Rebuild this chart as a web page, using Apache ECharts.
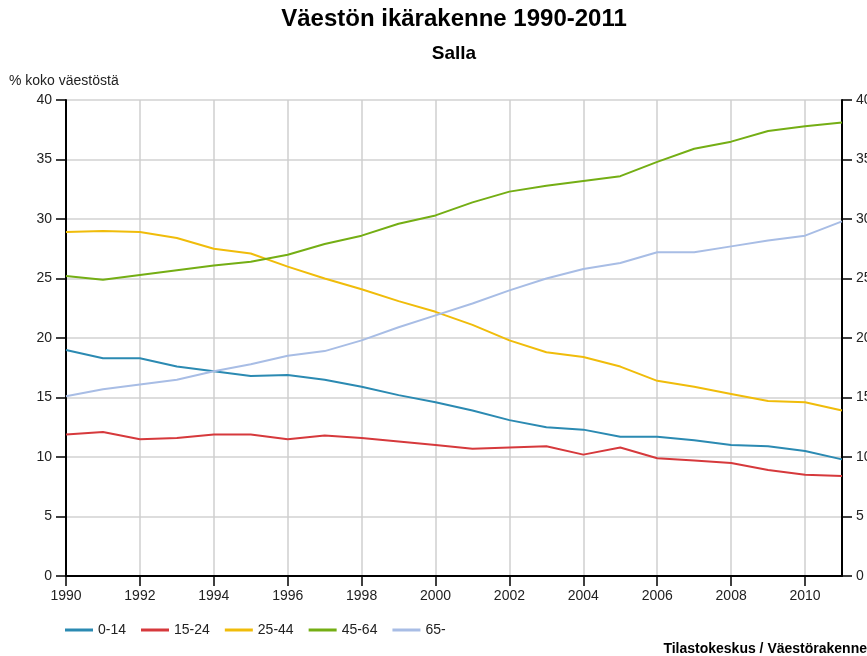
<!DOCTYPE html>
<html>
<head>
<meta charset="utf-8">
<script src="https://cdn.jsdelivr.net/npm/echarts@6/dist/echarts.min.js"></script>
<style>
html,body{margin:0;padding:0;background:#fff;}
#chart{width:867px;height:656px;}
</style>
</head>
<body>
<div id="chart"></div>
<script>
var years = ['1990','1991','1992','1993','1994','1995','1996','1997','1998','1999','2000','2001','2002','2003','2004','2005','2006','2007','2008','2009','2010','2011'];
var seriesNames = ['0-14','15-24','25-44','45-64','65-'];
var age0_14  = [19.0,18.3,18.3,17.6,17.2,16.8,16.9,16.5,15.9,15.2,14.6,13.9,13.1,12.5,12.3,11.7,11.7,11.4,11.0,10.9,10.5,9.8];
var age15_24 = [11.9,12.1,11.5,11.6,11.9,11.9,11.5,11.8,11.6,11.3,11.0,10.7,10.8,10.9,10.2,10.8,9.9,9.7,9.5,8.9,8.5,8.4];
var age25_44 = [28.9,29.0,28.9,28.4,27.5,27.1,26.0,25.0,24.1,23.1,22.2,21.1,19.8,18.8,18.4,17.6,16.4,15.9,15.3,14.7,14.6,13.9];
var age45_64 = [25.2,24.9,25.3,25.7,26.1,26.4,27.0,27.9,28.6,29.6,30.3,31.4,32.3,32.8,33.2,33.6,34.8,35.9,36.5,37.4,37.8,38.1];
var age65    = [15.1,15.7,16.1,16.5,17.2,17.8,18.5,18.9,19.8,20.9,21.9,22.9,24.0,25.0,25.8,26.3,27.2,27.2,27.7,28.2,28.6,29.8];
var colors = ['#2b8ab2','#d6393c','#f0bc0a','#74ae14','#a8bde5'];

var font = 'Liberation Sans, Arial, sans-serif';
var chart = echarts.init(document.getElementById('chart'), null, {renderer:'canvas'});
var dataArr = [age0_14, age15_24, age25_44, age45_64, age65];
var yBase = {
  type:'value', min:0, max:40, interval:5,
  axisLine:{show:true, lineStyle:{color:'#000', width:2}},
  axisTick:{show:true, length:10, lineStyle:{color:'#000', width:1.5}},
  axisLabel:{margin:14, color:'#222', fontSize:14, fontFamily:font}
};
chart.setOption({
  animation:false,
  color: colors,
  graphic:[
    {type:'text', x:454, y:19, style:{text:'Väestön ikärakenne 1990-2011', fontSize:24, fontWeight:'bold', fontFamily:font, fill:'#000', align:'center', verticalAlign:'middle'}},
    {type:'text', x:454, y:54, style:{text:'Salla', fontSize:19, fontWeight:'bold', fontFamily:font, fill:'#000', align:'center', verticalAlign:'middle'}},
    {type:'text', x:9, y:81, style:{text:'% koko väestöstä', fontSize:14, fontFamily:font, fill:'#222', align:'left', verticalAlign:'middle'}},
    {type:'text', x:867, y:649, style:{text:'Tilastokeskus / Väestörakenne', fontSize:14, fontWeight:'bold', fontFamily:font, fill:'#000', align:'right', verticalAlign:'middle'}}
  ],
  legend:{
    data: seriesNames, left:65, top:623, itemWidth:28, itemHeight:3, itemGap:15, icon:'rect',
    padding:0,
    textStyle:{fontSize:14, color:'#222', fontFamily:font}
  },
  grid:{left:66, right:25, top:100, bottom:80, containLabel:false, outerBoundsMode:'none'},
  xAxis:{
    type:'category', data: years, boundaryGap:false,
    axisLine:{show:true, lineStyle:{color:'#000', width:2}},
    axisTick:{show:true, interval:1, length:10, lineStyle:{color:'#000', width:1.5}},
    axisLabel:{interval:1, margin:13, color:'#222', fontSize:14, fontFamily:font},
    splitLine:{show:true, interval:1, lineStyle:{color:'#cfcfcf', width:1.5}}
  },
  yAxis:[
    Object.assign({}, yBase, {position:'left', splitLine:{show:true, lineStyle:{color:'#d2d2d2', width:1.5}}}),
    Object.assign({}, yBase, {position:'right', splitLine:{show:false}})
  ],
  series: seriesNames.map(function(n,i){
    return {name:n, type:'line', data:dataArr[i], yAxisIndex:0, showSymbol:false, symbol:'none',
      lineStyle:{width:2, color:colors[i]}, itemStyle:{color:colors[i]}};
  })
});
</script>
</body>
</html>
